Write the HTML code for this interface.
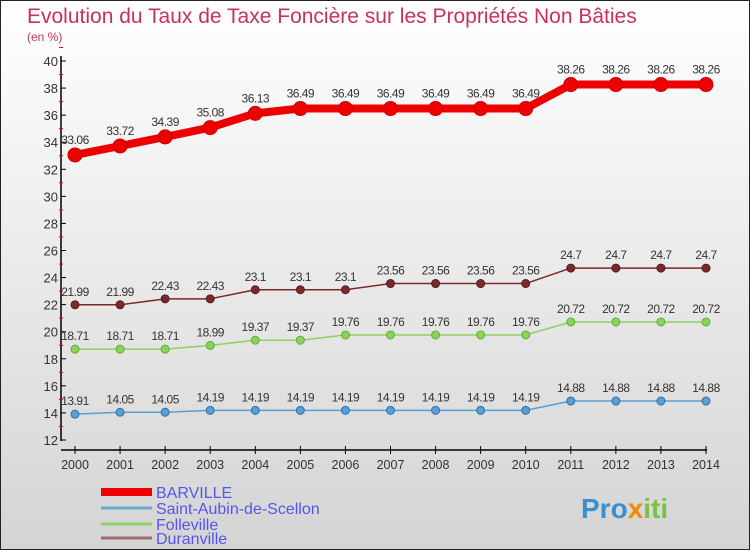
<!DOCTYPE html>
<html><head><meta charset="utf-8"><style>
body{margin:0;width:750px;height:550px;overflow:hidden;font-family:"Liberation Sans",sans-serif}
#wrap{position:relative;width:748px;height:548px;border:1px solid #222;background:linear-gradient(#ffffff,#d4d4d4)}
</style></head><body>
<div id="wrap">
<svg id="svg" width="748" height="548" xmlns="http://www.w3.org/2000/svg">
<text x="26" y="22" font-size="21" fill="#c8325a">Evolution du Taux de Taxe Foncière sur les Propriétés Non Bâties</text>
<text x="26" y="40" font-size="12" fill="#c8325a">(en %)</text>
<text x="580" y="517" font-size="28" font-weight="bold" fill="#3a8fd0">Pro<tspan fill="#f08a00">x</tspan><tspan fill="#7cc242">iti</tspan></text>
</svg>
</div>
<script>
const years=[2000,2001,2002,2003,2004,2005,2006,2007,2008,2009,2010,2011,2012,2013,2014];
const barville=[33.06,33.72,34.39,35.08,36.13,36.49,36.49,36.49,36.49,36.49,36.49,38.26,38.26,38.26,38.26];
const saintAubin=[13.91,14.05,14.05,14.19,14.19,14.19,14.19,14.19,14.19,14.19,14.19,14.88,14.88,14.88,14.88];
const folleville=[18.71,18.71,18.71,18.99,19.37,19.37,19.76,19.76,19.76,19.76,19.76,20.72,20.72,20.72,20.72];
const duranville=[21.99,21.99,22.43,22.43,23.1,23.1,23.1,23.56,23.56,23.56,23.56,24.7,24.7,24.7,24.7];
const yTicks=[12,14,16,18,20,22,24,26,28,30,32,34,36,38,40];
const names=["BARVILLE","Saint-Aubin-de-Scellon","Folleville","Duranville"];
const NS="http://www.w3.org/2000/svg",svg=document.getElementById('svg');
const X=i=>74+i*(705-74)/14, Y=v=>439-(v-12)*(379/28);
function mk(t,a,p){const e=document.createElementNS(NS,t);for(const k in a)e.setAttribute(k,a[k]);(p||svg).appendChild(e);return e;}
function line(x1,y1,x2,y2,c,w){return mk('line',{x1,y1,x2,y2,stroke:c,'stroke-width':w});}
let l=line(60,55,60,440,'#000',1.5);
l=line(60,449,706,449,'#000',1.5);
yTicks.forEach(v=>{line(60,Y(v),65,Y(v),'#000',1);line(58,Y(v+1),62,Y(v+1),'#e00',1);
 const t=mk('text',{x:57,y:Y(v)+5,'text-anchor':'end','font-size':13,fill:'#333'});t.textContent=v;
 });
years.forEach((y,i)=>{line(X(i),445,X(i),453,'#000',1);
 const t=mk('text',{x:X(i),y:468,'text-anchor':'middle','font-size':12.5,fill:'#333'});t.textContent=y;
 });
const series=[[barville,'#e00','#c00',8,7,'barville'],[saintAubin,'#5a9fd0','#2a70b0',1.5,4,'saint-aubin'],[folleville,'#8ed060','#60b030',1.5,4,'folleville'],[duranville,'#7a2a2a','#5a1a1a',1.5,4,'duranville']];
series.forEach(([d,c,cd,w,r,n])=>{
 const p=mk('polyline',{points:d.map((v,i)=>X(i)+','+Y(v)).join(' '),fill:'none',stroke:c,'stroke-width':w,'stroke-linejoin':'round'});
 
 d.forEach((v,i)=>{const ci=mk('circle',{cx:X(i),cy:Y(v),r,fill:c,stroke:cd,'stroke-width':1});
  
  const t=mk('text',{x:X(i),y:Y(v)-(w>4?11:9),'text-anchor':'middle','font-size':12,fill:'#333','letter-spacing':'-0.5'});t.textContent=v;
  });
});
const lc=['#e00','#6aa8d0','#90d070','#a06a6a'],lw=[8,3,3,3],ly=[491,507,523,537];
names.forEach((nm,i)=>{const g=mk('g',{});
 mk('line',{x1:100,y1:ly[i],x2:151,y2:ly[i],stroke:lc[i],'stroke-width':lw[i]},g);
 const t=mk('text',{x:155,y:ly[i]+6,'font-size':16,fill:'#5555ee'},g);t.textContent=nm;});
</script>
</body></html>
